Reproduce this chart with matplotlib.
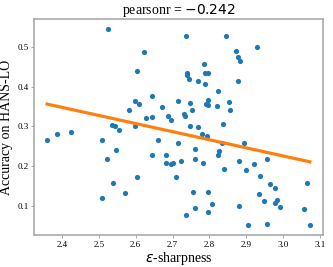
import numpy as np
import matplotlib
matplotlib.use("Agg")
import matplotlib.pyplot as plt

# values
sharpness = [2.360, 2.386, 2.425, 2.524, 2.510, 2.521, 2.510, 2.535, 2.545, 2.554,
             2.546, 2.538, 2.571, 2.581, 2.597, 2.609, 2.598, 2.604, 2.604, 2.623,
             2.627, 2.644, 2.644, 2.644, 2.660, 2.672, 2.682, 2.682, 2.687, 2.695,
             2.696, 2.702, 2.709, 2.716, 2.715, 2.724, 2.731, 2.734, 2.735, 2.738,
             2.739, 2.744, 2.746, 2.748, 2.752, 2.737, 2.755, 2.760, 2.761, 2.762,
             2.768, 2.770, 2.781, 2.783, 2.785, 2.787, 2.788, 2.790, 2.792, 2.795,
             2.796, 2.796, 2.795, 2.795, 2.806, 2.822, 2.821, 2.822, 2.827, 2.833,
             2.836, 2.840, 2.846, 2.852, 2.855, 2.872, 2.877, 2.883, 2.878, 2.879,
             2.880, 2.893, 2.899, 2.905, 2.920, 2.928, 2.935, 2.936, 2.947, 2.957,
             2.955, 2.965, 2.977, 2.977, 2.983, 2.990, 3.056, 3.063, 3.072]
accuracy = [0.265, 0.282, 0.285, 0.545, 0.267, 0.218, 0.121, 0.303, 0.301, 0.290,
            0.241, 0.159, 0.133, 0.342, 0.363, 0.356, 0.300, 0.439, 0.172, 0.486,
            0.322, 0.377, 0.323, 0.229, 0.265, 0.349, 0.229, 0.208, 0.326, 0.316,
            0.205, 0.208, 0.173, 0.259, 0.364, 0.214, 0.331, 0.327, 0.526, 0.428,
            0.435, 0.419, 0.359, 0.300, 0.341, 0.077, 0.136, 0.242, 0.217, 0.094,
            0.413, 0.299, 0.281, 0.209, 0.457, 0.406, 0.434, 0.357, 0.277, 0.136,
            0.435, 0.366, 0.353, 0.084, 0.106, 0.390, 0.351, 0.228, 0.237, 0.259,
            0.307, 0.192, 0.528, 0.361, 0.341, 0.489, 0.473, 0.463, 0.414, 0.212,
            0.100, 0.257, 0.190, 0.052, 0.206, 0.500, 0.129, 0.176, 0.113, 0.218,
            0.056, 0.155, 0.146, 0.107, 0.115, 0.097, 0.092, 0.157, 0.053]
pearson_text = "-0.242"

plt.rcParams['font.family'] = ['Liberation Serif', 'DejaVu Serif']
plt.rcParams['mathtext.fontset'] = 'dejavusans'

x = np.array(sharpness)
y = np.array(accuracy)

fig = plt.figure(figsize=(3.33, 2.67), dpi=100)
ax = fig.add_axes([0.102, 0.12, 0.868, 0.809])

ax.scatter(x, y, s=14, color='#1f77b4', linewidths=0, zorder=2)

# least squares line over the data range
slope, intercept = np.polyfit(x, y, 1)
xs = np.array([x.min(), x.max()])
ax.plot(xs, slope * xs + intercept, color='#ff7f0e', lw=2.3, zorder=3)

ax.set_title('pearsonr = $' + pearson_text + '$', fontsize=10, pad=3)
ax.set_xlabel(r'$\epsilon$-sharpness', fontsize=10, labelpad=1)
ax.set_ylabel('Accuracy on HANS-LO', fontsize=10, labelpad=3)

ax.set_xticks([2.4, 2.5, 2.6, 2.7, 2.8, 2.9, 3.0, 3.1])
ax.set_yticks([0.1, 0.2, 0.3, 0.4, 0.5])
ax.tick_params(labelsize=6.5, length=2, width=0.6, color='#999999', pad=2)
for sp in ax.spines.values():
    sp.set_color('#aaaaaa')
    sp.set_linewidth(1.2)

fig.savefig('out.png', dpi=100)
